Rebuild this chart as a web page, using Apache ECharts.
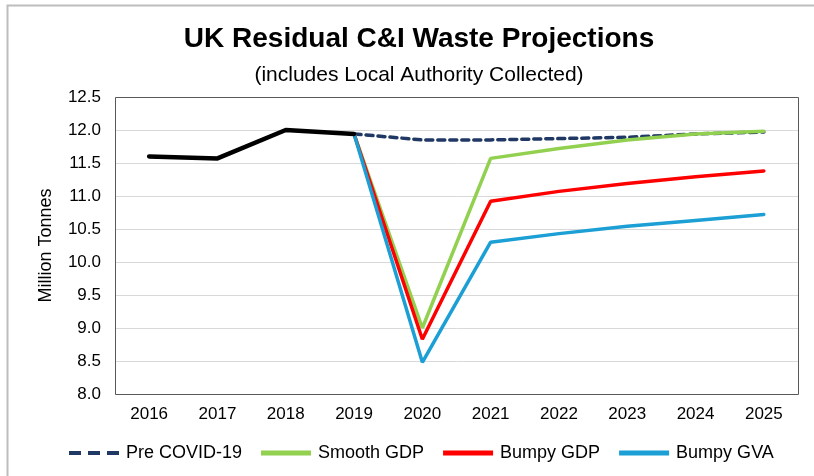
<!DOCTYPE html>
<html>
<head>
<meta charset="utf-8">
<script src="https://cdn.jsdelivr.net/npm/echarts@6/dist/echarts.min.js"></script>
<style>
html, body { margin: 0; padding: 0; background: #fff; }
#main { width: 814px; height: 476px; }
</style>
</head>
<body>
<div id="main"></div>
<script>
var years = ['2016', '2017', '2018', '2019', '2020', '2021', '2022', '2023', '2024', '2025'];
var yTicks = ['8.0', '8.5', '9.0', '9.5', '10.0', '10.5', '11.0', '11.5', '12.0', '12.5'];

// historic values (black line)
var actual = [11.60, 11.57, 12.00, 11.94, null, null, null, null, null, null];
var preCovid = [null, null, null, 11.94, 11.85, 11.85, 11.87, 11.89, 11.94, 11.97];
var smoothGdp = [null, null, null, 11.94, 9.00, 11.57, 11.72, 11.85, 11.94, 11.98];
var bumpyGdp = [null, null, null, 11.94, 8.83, 10.92, 11.07, 11.19, 11.29, 11.38];
var bumpyGva = [null, null, null, 11.94, 8.48, 10.30, 10.43, 10.54, 10.63, 10.72];

var font = 'Liberation Sans, Arial, sans-serif';

function lineSeries(name, data, color, width, dashed, z) {
	return {
		name: name,
		type: 'line',
		data: data,
		symbol: 'none',
		z: z,
		lineStyle: { color: color, width: width, type: dashed ? [7, 5] : 'solid', cap: 'round' },
		itemStyle: { color: color }
	};
}

var myChart = echarts.init(document.getElementById('main'));

var option = {
	backgroundColor: '#fff',
	animation: false,
	textStyle: { fontFamily: font },
	title: {
		text: 'UK Residual C&I Waste Projections',
		subtext: '(includes Local Authority Collected)',
		left: 414,
		textAlign: 'center',
		top: 20,
		itemGap: 12,
		textStyle: { fontFamily: font, fontSize: 28, fontWeight: 'bold', color: '#000' },
		subtextStyle: { fontFamily: font, fontSize: 21, color: '#000' }
	},
	legend: {
		top: 439,
		left: 64,
		itemWidth: 50,
		itemHeight: 5,
		itemGap: 19,
		icon: 'rect',
		textStyle: { fontFamily: font, fontSize: 18, color: '#000', padding: [0, 0, 0, 2] },
		data: [
			{ name: 'Pre COVID-19', icon: 'path://M0,0 L12,0 L12,4 L0,4 Z M19,0 L31,0 L31,4 L19,4 Z M38,0 L50,0 L50,4 L38,4 Z' },
			{ name: 'Smooth GDP' },
			{ name: 'Bumpy GDP' },
			{ name: 'Bumpy GVA' }
		]
	},
	grid: { left: 115, right: 16, top: 97, bottom: 82 },
	xAxis: {
		type: 'category',
		data: years,
		boundaryGap: true,
		axisTick: { show: false },
		axisLine: { show: false },
		axisLabel: { fontFamily: font, fontSize: 17, color: '#000', margin: 12 },
		splitLine: { show: false }
	},
	yAxis: {
		type: 'value',
		min: 8,
		max: 12.5,
		interval: 0.5,
		name: 'Million Tonnes',
		nameLocation: 'middle',
		nameGap: 60,
		nameTextStyle: { fontFamily: font, fontSize: 18, color: '#000' },
		axisLine: { show: false },
		axisTick: { show: false },
		axisLabel: {
			fontFamily: font, fontSize: 17, color: '#000', margin: 14,
			formatter: function (v) { return v.toFixed(1); }
		},
		splitLine: { lineStyle: { color: '#d9d9d9', width: 1 } }
	},
	series: [
		lineSeries('Smooth GDP', smoothGdp, '#92d050', 3.5, false, 3),
		lineSeries('Bumpy GDP', bumpyGdp, '#ff0000', 3.5, false, 4),
		lineSeries('Bumpy GVA', bumpyGva, '#1b9fd5', 3.5, false, 5),
		lineSeries('Pre COVID-19', preCovid, '#1f3864', 3.5, true, 2),
		lineSeries('Actual', actual, '#000000', 4.5, false, 6)
	]
};

myChart.setOption(option);

// outer frame and frame round the plot area
var box = myChart.getModel().getComponent('grid').coordinateSystem.getRect();
myChart.setOption({
	graphic: [
		{
			type: 'polyline',
			shape: { points: [[7.5, 480], [7.5, 5.5], [820, 5.5]] },
			style: { stroke: '#bdbdbd', lineWidth: 2, fill: null }
		},
		{
			type: 'rect',
			shape: { x: Math.round(box.x) + 0.5, y: Math.round(box.y) + 0.5, width: Math.round(box.width), height: Math.round(box.height) },
			style: { stroke: '#595959', lineWidth: 1, fill: null },
			z: 10
		}
	]
});
</script>
</body>
</html>
